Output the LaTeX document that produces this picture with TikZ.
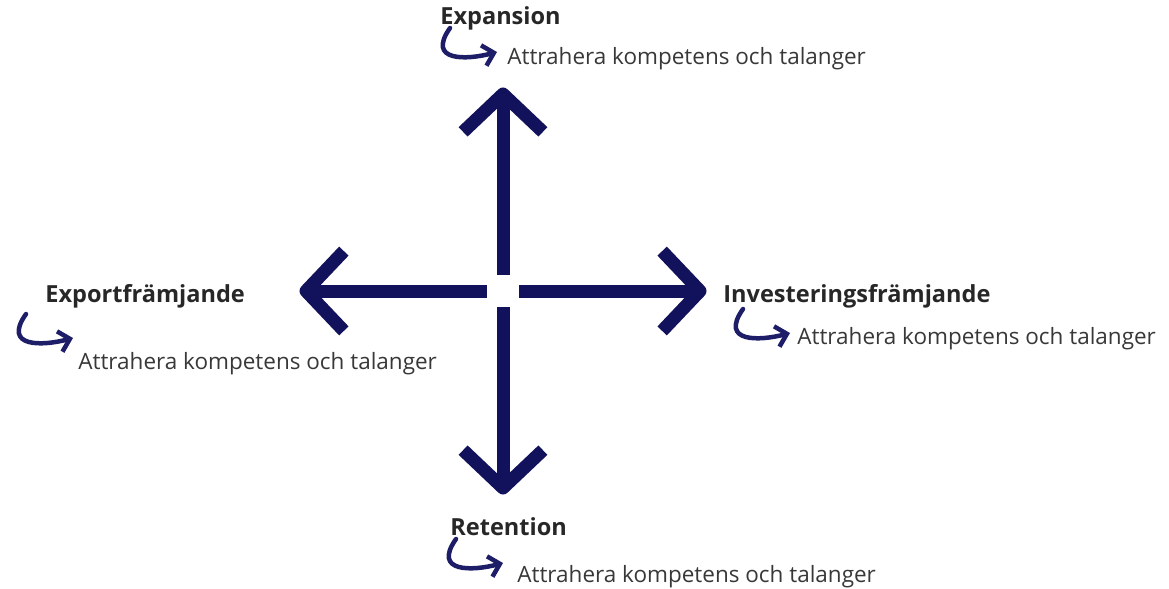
\documentclass[tikz,border=0pt]{standalone}
\usepackage{fontspec}
\setmainfont{Open Sans}
\usetikzlibrary{calc,arrows.meta}
\definecolor{DNavy}{HTML}{12125C}
\definecolor{CInk}{HTML}{1E1E68}
\definecolor{TGray}{HTML}{383838}

\begin{document}
\begin{tikzpicture}[x=0.02cm,y=-0.02cm,
    shaft/.style={DNavy,line width=0.26cm,line cap=butt},
    chevron/.style={DNavy,line width=0.26cm,line join=round,line cap=butt},
    title/.style={anchor=base west,inner sep=0pt,text=TGray!70!black,font=\fontsize{13.4}{16}\selectfont\bfseries},
    blurb/.style={anchor=base west,inner sep=0pt,text=TGray,font=\fontsize{12.8}{15}\selectfont},
    curl/.style={CInk,line width=0.09cm,line cap=round,-{Straight Barb[length=6pt,width=12pt]}}]
        \useasboundingbox (0,0) rectangle (1169,588);
        % the cross of four arrows
        \coordinate (ctr) at (503,291);
        \foreach \dir/\ang in {n/270,s/90,w/180,e/0}
        {
            \coordinate (\dir gap) at ($(ctr)+(\ang:16)$);
            \coordinate (\dir tip) at ($(ctr)+(\ang:197)$);
            \draw[shaft] (\dir gap) -- (\dir tip);
            \draw[chevron] ($(\dir tip)+(\ang+180-46.5:55)$) -- (\dir tip) -- ($(\dir tip)+(\ang+180+46.5:55)$);
        }
        % labels
        \node[title] (expTitle) at (440,25) {Expansion};
        \node[blurb] (expText) at (507,65) {Attrahera kompetens och talanger};
        \node[title] (invTitle) at (723,302) {Investeringsfrämjande};
        \node[blurb] (invText) at (797,344) {Attrahera kompetens och talanger};
        \node[title] (retTitle) at (450,535) {Retention};
        \node[blurb] (retText) at (517,582) {Attrahera kompetens och talanger};
        \node[title] (expoTitle) at (45,302) {Exportfrämjande};
        \node[blurb] (expoText) at (78,369) {Attrahera kompetens och talanger};
        % hooked arrows
        \foreach \blk/\dx/\dy in {exp/-10/-13,inv/-7/-11,ret/-14/-19,expo/-5/-31}
        {
            \coordinate (\blk To) at ($(\blk Text.base west)+(\dx,\dy)$);
            \coordinate (\blk From) at ($(\blk To)+(-47,-24)$);
            \draw[curl] (\blk From) .. controls +(-24,34) and +(-30,8) .. (\blk To);
        }
\end{tikzpicture}
\end{document}
